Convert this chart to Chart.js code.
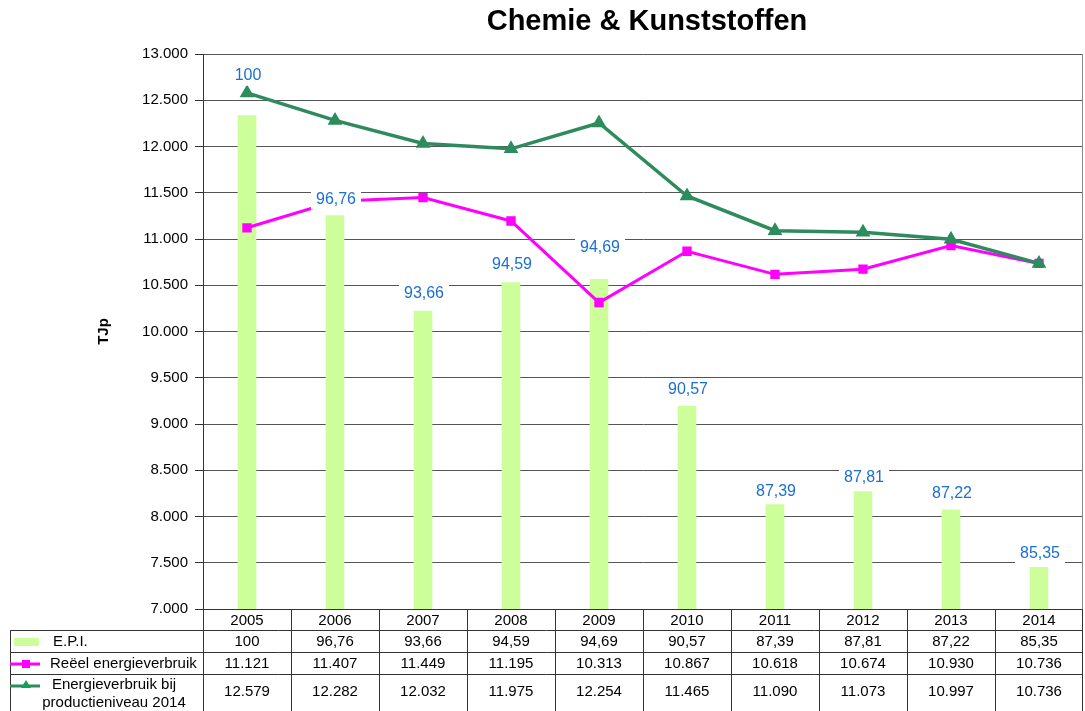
<!DOCTYPE html>
<html>
<head>
<meta charset="utf-8">
<script src="https://cdn.jsdelivr.net/npm/chart.js@4.4.1/dist/chart.umd.min.js"></script>
<style>
  html, body { margin: 0; padding: 0; background: #fff; }
  #wrap { width: 1085px; height: 711px; position: relative; }
</style>
</head>
<body>
<div id="wrap"><canvas id="myChart"></canvas></div>
<script>
const years = ['2005', '2006', '2007', '2008', '2009', '2010', '2011', '2012', '2013', '2014'];
const epi = [100, 96.76, 93.66, 94.59, 94.69, 90.57, 87.39, 87.81, 87.22, 85.35];
const reeel = [11121, 11407, 11449, 11195, 10313, 10867, 10618, 10674, 10930, 10736];
const productie = [12579, 12282, 12032, 11975, 12254, 11465, 11090, 11073, 10997, 10736];

const fmtThousands = v => String(Math.round(v)).replace(/\B(?=(\d{3})+(?!\d))/g, '.');
const fmtDecimal = v => String(v).replace('.', ',');

const FONT = 'Arial, "Liberation Sans", sans-serif';
const barColor = '#ccff99';
const pinkColor = '#ff00ff';
const greenLine = '#2e8b5e';
const greenMark = '#12a05c';
const labelBlue = '#1a6fd0';

// little offsets so the bar labels sit where they do in the original
const labelShift = [-40, -16, -18, -18, -32, -17, -13, -14, -16, -14];

const extras = {
  id: 'extras',
  afterDatasetsDraw(chart) {
    const ctx = chart.ctx;
    const meta = chart.getDatasetMeta(0);
    ctx.save();
    ctx.font = '16px ' + FONT;
    ctx.textAlign = 'center';
    ctx.textBaseline = 'middle';
    meta.data.forEach((bar, i) => {
      const txt = fmtDecimal(epi[i]);
      const x = bar.x + 1;
      const y = bar.y + labelShift[i];
      const w = ctx.measureText(txt).width + 10;
      ctx.fillStyle = '#fff';
      ctx.fillRect(x - w / 2, y - 10, w, 20);
      ctx.fillStyle = labelBlue;
      ctx.fillText(txt, x, y);
    });
    ctx.restore();
  },
  afterDraw(chart) {
    const ctx = chart.ctx;
    const area = chart.chartArea;
    const xs = chart.scales.x;
    ctx.save();

    // title
    ctx.fillStyle = '#000';
    ctx.font = 'bold 29px ' + FONT;
    ctx.textAlign = 'center';
    ctx.textBaseline = 'middle';
    ctx.fillText('Chemie & Kunststoffen', 647, 22);

    // right border of plot
    ctx.strokeStyle = '#888';
    ctx.lineWidth = 1;
    ctx.beginPath();
    ctx.moveTo(area.right - 0.5, area.top);
    ctx.lineTo(area.right - 0.5, area.bottom);
    ctx.stroke();

    // data table (runs off the bottom edge like the original)
    const rows = [area.bottom, 630, 652, 674];
    const bottom = 712;
    const left = 10;
    const colW = (area.right - area.left) / years.length;
    ctx.strokeStyle = '#333';
    ctx.beginPath();
    ctx.moveTo(area.left, rows[0] + 0.5);
    ctx.lineTo(area.right, rows[0] + 0.5);
    for (let r = 1; r < rows.length; r++) {
      ctx.moveTo(left, rows[r] + 0.5);
      ctx.lineTo(area.right, rows[r] + 0.5);
    }
    for (let c = 0; c <= years.length; c++) {
      const x = Math.min(Math.round(area.left + c * colW), Math.round(area.right) - 1) + 0.5;
      ctx.moveTo(x, rows[0]);
      ctx.lineTo(x, bottom);
    }
    ctx.moveTo(left + 0.5, rows[1]);
    ctx.lineTo(left + 0.5, bottom);
    ctx.stroke();

    ctx.fillStyle = '#000';
    ctx.font = '15px ' + FONT;
    ctx.textAlign = 'center';
    years.forEach((yr, i) => {
      const x = xs.getPixelForValue(i);
      ctx.fillText(yr, x, 621);
      ctx.fillText(fmtDecimal(epi[i]), x, 642);
      ctx.fillText(fmtThousands(reeel[i]), x, 664);
      ctx.fillText(fmtThousands(productie[i]), x, 692);
    });

    // legend keys + names
    ctx.fillStyle = barColor;
    ctx.fillRect(14, 638, 25, 8);
    ctx.fillStyle = '#000';
    ctx.textAlign = 'left';
    ctx.fillText('E.P.I.', 53, 642);

    ctx.strokeStyle = pinkColor;
    ctx.lineWidth = 3;
    ctx.beginPath();
    ctx.moveTo(10, 664);
    ctx.lineTo(40, 664);
    ctx.stroke();
    ctx.fillStyle = pinkColor;
    ctx.fillRect(22, 660, 8, 8);
    ctx.fillStyle = '#000';
    ctx.fillText('Reëel energieverbruik', 50, 664);

    ctx.strokeStyle = greenLine;
    ctx.beginPath();
    ctx.moveTo(10, 686);
    ctx.lineTo(40, 686);
    ctx.stroke();
    ctx.fillStyle = greenMark;
    ctx.beginPath();
    ctx.moveTo(26, 680);
    ctx.lineTo(31, 688);
    ctx.lineTo(21, 688);
    ctx.closePath();
    ctx.fill();
    ctx.fillStyle = '#000';
    ctx.textAlign = 'center';
    ctx.fillText('Energieverbruik bij', 114, 685);
    ctx.fillText('productieniveau 2014', 114, 703);

    ctx.restore();
  }
};

new Chart(document.getElementById('myChart'), {
  type: 'bar',
  data: {
    labels: years,
    datasets: [
      {
        type: 'bar',
        label: 'E.P.I.',
        data: epi,
        yAxisID: 'y2',
        backgroundColor: barColor,
        barThickness: 18,
        order: 3
      },
      {
        type: 'line',
        label: 'Reëel energieverbruik',
        data: reeel,
        yAxisID: 'y',
        borderColor: pinkColor,
        backgroundColor: pinkColor,
        borderWidth: 3,
        pointStyle: 'rect',
        pointRadius: 4.5,
        tension: 0,
        order: 2
      },
      {
        type: 'line',
        label: 'Energieverbruik bij productieniveau 2014',
        data: productie,
        yAxisID: 'y',
        borderColor: greenLine,
        backgroundColor: greenMark,
        borderWidth: 3.5,
        pointStyle: 'triangle',
        pointRadius: 5,
        tension: 0,
        order: 1
      }
    ]
  },
  options: {
    responsive: true,
    maintainAspectRatio: false,
    animation: false,
    layout: { autoPadding: false, padding: { left: 0, top: 54, right: 2, bottom: 102 } },
    plugins: {
      legend: { display: false },
      tooltip: { enabled: false },
      title: { display: false }
    },
    scales: {
      x: {
        display: false,
        offset: true
      },
      y: {
        position: 'left',
        min: 7000,
        max: 13000,
        afterFit(scale) { scale.width = 203; },
        ticks: {
          stepSize: 500,
          color: '#000',
          padding: 7,
          font: { family: FONT, size: 15 },
          callback: v => fmtThousands(v)
        },
        grid: { color: '#555', lineWidth: 1, tickLength: 8, tickColor: '#333' },
        border: { color: '#333', width: 1 },
        title: {
          display: true,
          text: 'TJp',
          color: '#000',
          padding: { top: 95, bottom: 0 },
          font: { family: FONT, size: 15, weight: 'bold' }
        }
      },
      y2: {
        display: false,
        min: 84,
        max: 102
      }
    }
  },
  plugins: [extras]
});
</script>
</body>
</html>
